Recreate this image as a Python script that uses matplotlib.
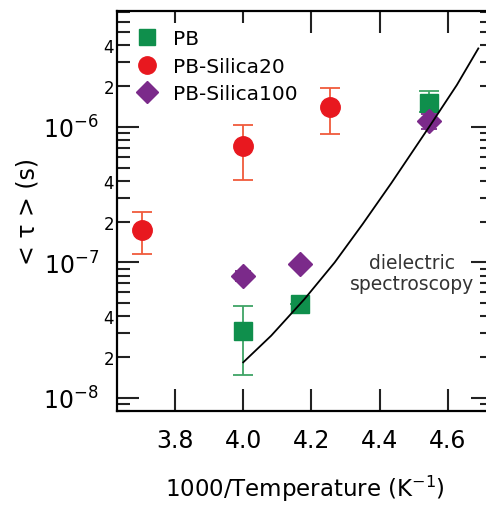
import numpy as np
import matplotlib
matplotlib.use("Agg")
import matplotlib.pyplot as plt
from matplotlib.lines import Line2D
from matplotlib.ticker import LogLocator, FuncFormatter, LogFormatterMathtext, FixedLocator

# relaxation times vs inverse temperature
pb_x = [4.0, 4.167, 4.545]
pb_tau = [3.1e-8, 4.9e-8, 1.5e-6]
pb_lo = [1.48e-8, 4.9e-8, 1.3e-6]
pb_hi = [4.8e-8, 4.9e-8, 1.84e-6]

s20_x = [3.704, 4.0, 4.255]
s20_tau = [1.74e-7, 7.27e-7, 1.40e-6]
s20_lo = [1.15e-7, 4.06e-7, 8.88e-7]
s20_hi = [2.34e-7, 1.04e-6, 1.93e-6]

s100_x = [4.0, 4.167, 4.545]
s100_tau = [7.9e-8, 9.8e-8, 1.1e-6]
s100_lo = [7.3e-8, 9.8e-8, 9.6e-7]
s100_hi = [8.6e-8, 9.8e-8, 1.25e-6]

# dielectric spectroscopy curve
ds_x = [4.0, 4.082, 4.18, 4.268, 4.35, 4.434, 4.547, 4.626, 4.689]
ds_tau = [1.83e-8, 2.88e-8, 5.38e-8, 1.0e-7, 1.92e-7, 3.85e-7, 1.02e-6, 2.04e-6, 3.8e-6]

green = "#0f8f4c"
green_err = "#3fa466"
red = "#e8181f"
red_err = "#f05a3c"
purple = "#7b2a8a"


def yerr(tau, lo, hi):
    tau = np.array(tau)
    return [tau - np.array(lo), np.array(hi) - tau]


fig = plt.figure(figsize=(4.86, 5.06), dpi=100)
ax = fig.add_axes([117 / 486, 1 - 412 / 506, 376 / 486, 400 / 506])

ax.errorbar(pb_x, pb_tau, yerr=yerr(pb_tau, pb_lo, pb_hi), fmt="s", ms=13.5,
            color=green, ecolor=green_err, elinewidth=1.3, capsize=7, capthick=1.3, zorder=3)
ax.errorbar(s20_x, s20_tau, yerr=yerr(s20_tau, s20_lo, s20_hi), fmt="o", ms=14,
            color=red, ecolor=red_err, elinewidth=1.3, capsize=7, capthick=1.3, zorder=3)
ax.errorbar(s100_x, s100_tau, yerr=yerr(s100_tau, s100_lo, s100_hi), fmt="D", ms=12,
            color=purple, ecolor=purple, elinewidth=1.3, capsize=6, capthick=1.3, zorder=4)
ax.plot(ds_x, ds_tau, color="black", lw=1.3, zorder=5)

ax.text(4.495, 8.4e-8, "dielectric\nspectroscopy", ha="center", va="center",
        fontsize=13.5, color="#333333", linespacing=1.15)

ax.set_yscale("log")
ax.set_xlim(3.63, 4.732)
ax.set_ylim(8.0e-9, 7.18e-6)

ax.xaxis.set_major_locator(FixedLocator([3.8, 4.0, 4.2, 4.4, 4.6]))
ax.xaxis.set_major_formatter(FuncFormatter(lambda v, p: "%.1f" % v))
ax.yaxis.set_major_locator(LogLocator(base=10, numticks=10))
ax.yaxis.set_major_formatter(LogFormatterMathtext())
ax.yaxis.set_minor_locator(LogLocator(base=10, subs=np.arange(2, 10), numticks=20))


def minor_label(v, pos):
    m = v / 10 ** np.floor(np.log10(v) + 1e-9)
    if abs(m - 2) < 0.01 or abs(m - 4) < 0.01:
        return "%d" % round(m)
    return ""


ax.yaxis.set_minor_formatter(FuncFormatter(minor_label))

ax.tick_params(axis="both", which="both", direction="in", top=True, right=True,
               width=1.5, color="#222222")
ax.tick_params(axis="x", which="major", length=16, labelsize=17, pad=12)
ax.tick_params(axis="y", which="major", length=16, labelsize=17, pad=13)
ax.tick_params(axis="y", which="minor", length=9.5, labelsize=12, pad=2)
for sp in ax.spines.values():
    sp.set_linewidth(1.6)

ax.set_xlabel("1000/Temperature (K$^{-1}$)", fontsize=16.5)
ax.set_ylabel("< τ > (s)", fontsize=17)
ax.xaxis.set_label_coords(0.5, -0.155)
ax.yaxis.set_label_coords(-0.205, 0.5)

# legend shows plain markers, no error bars
handles = [
    Line2D([], [], ls="none", marker="s", ms=12, color=green),
    Line2D([], [], ls="none", marker="o", ms=12.5, color=red),
    Line2D([], [], ls="none", marker="D", ms=11, color=purple),
]
leg = ax.legend(handles, ["PB", "PB-Silica20", "PB-Silica100"], loc="upper left",
                bbox_to_anchor=(0.01, 0.995), fontsize=14.5, labelspacing=0.42,
                handlelength=1.0, handletextpad=0.8, borderpad=0.3,
                frameon=True, facecolor="white", edgecolor="none", framealpha=1)
leg.set_zorder(6)

fig.savefig("out.png", dpi=100)
